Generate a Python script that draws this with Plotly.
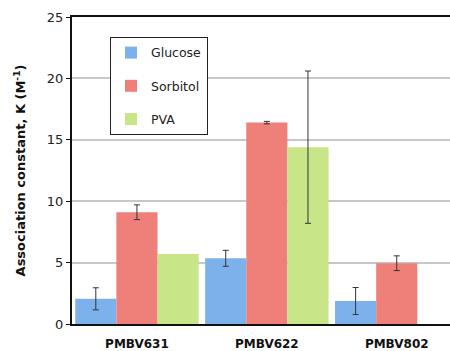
import plotly.graph_objects as go

categories = ["PMBV631", "PMBV622", "PMBV802"]
series_names = ["Glucose", "Sorbitol", "PVA"]
glucose = [2.05, 5.35, 1.87]
glucose_err = [0.9, 0.65, 1.1]
sorbitol = [9.1, 16.4, 4.95]
sorbitol_err = [0.6, 0.1, 0.6]
pva = [5.7, 14.4, 0.0]
pva_err = [0.0, 6.2, 0.0]
y_ticks = [0, 5, 10, 15, 20, 25]

colors = ["#7db1ec", "#ee7f79", "#c8e587"]
values = [glucose, sorbitol, pva]
errors = [glucose_err, sorbitol_err, pva_err]

fig = go.Figure()
for i, name in enumerate(series_names):
    fig.add_trace(go.Bar(
        x=categories, y=values[i], name=name,
        legendgroup=name, offsetgroup=str(i),
        marker=dict(color=colors[i], line=dict(width=0)),
    ))
for i, name in enumerate(series_names):
    idx = [k for k, e in enumerate(errors[i]) if e > 0]
    fig.add_trace(go.Bar(
        x=[categories[k] for k in idx], y=[values[i][k] for k in idx],
        name=name, showlegend=False, legendgroup=name, offsetgroup=str(i),
        marker=dict(color="rgba(0,0,0,0)", line=dict(width=0)),
        error_y=dict(type="data", array=[errors[i][k] for k in idx],
                     visible=True, color="#333333", thickness=1, width=3),
        hoverinfo="skip",
    ))

fig.update_layout(
    width=450, height=351,
    margin=dict(l=72, r=0, t=17, b=27),
    paper_bgcolor="white", plot_bgcolor="white",
    barmode="group", bargap=0.05, bargroupgap=0,
    font=dict(family="DejaVu Sans", size=12, color="#222222"),
    showlegend=True,
    legend=dict(
        x=0.1005, y=0.935, xanchor="left", yanchor="top",
        bordercolor="#222222", borderwidth=1, bgcolor="white",
        font=dict(size=12.5, family="DejaVu Sans", color="#222222"),
        traceorder="grouped", tracegroupgap=14,
        itemwidth=30,
    ),
    xaxis=dict(
        range=[-0.5, 2.41], showline=True, linecolor="#111111", linewidth=2,
        mirror=True, ticks="", showgrid=False,
        tickfont=dict(family="DejaVu Sans", size=12, color="#111111", weight="bold"),
        ticklabelstandoff=8,
    ),
    yaxis=dict(
        range=[0, 25], tickvals=y_ticks, showline=True, linecolor="#111111",
        linewidth=2, ticks="outside", ticklen=4, tickcolor="#111111",
        showgrid=True, gridcolor="#c8c8c8", gridwidth=1.5,
        tickfont=dict(family="DejaVu Sans", size=13, color="#222222"),
        title=dict(text="Association constant, K (M<sup>-1</sup>)",
                   font=dict(family="DejaVu Sans", size=13, color="#111111", weight="bold"),
                   standoff=18),
        zeroline=False,
    ),
)

fig.write_html("out.html")
